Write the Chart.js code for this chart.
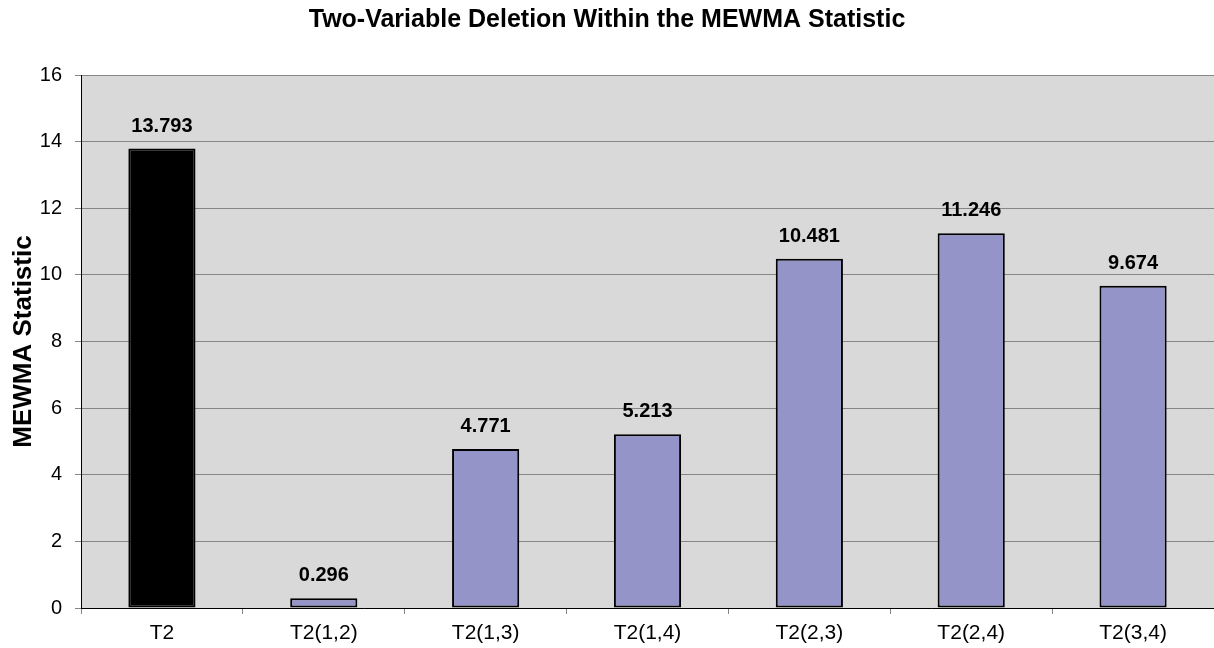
<!DOCTYPE html>
<html>
<head>
<meta charset="utf-8">
<script src="https://cdn.jsdelivr.net/npm/chart.js@4.4.0/dist/chart.umd.min.js"></script>
<style>
  html, body { margin: 0; padding: 0; background: #fff; }
  #wrap { width: 1214px; height: 648px; }
</style>
</head>
<body>
<div id="wrap"><canvas id="mewma"></canvas></div>
<script>
const categories = ["T2", "T2(1,2)", "T2(1,3)", "T2(1,4)", "T2(2,3)", "T2(2,4)", "T2(3,4)"];
const values = [13.793, 0.296, 4.771, 5.213, 10.481, 11.246, 9.674];
const labels = ["13.793", "0.296", "4.771", "5.213", "10.481", "11.246", "9.674"];
const barColors = ["#000000", "#9494C9", "#9494C9", "#9494C9", "#9494C9", "#9494C9", "#9494C9"];

const FONT = "'Liberation Sans', Arial, sans-serif";

// gray plot background
const plotBg = {
  id: "plotBg",
  beforeDraw(chart) {
    const { ctx, chartArea: a } = chart;
    ctx.save();
    ctx.fillStyle = "#D9D9D9";
    ctx.fillRect(a.left, a.top, a.right - a.left, a.bottom - a.top);
    ctx.restore();
  },
};

// value labels above each bar
const valueLabels = {
  id: "valueLabels",
  afterDatasetsDraw(chart) {
    const { ctx } = chart;
    const meta = chart.getDatasetMeta(0);
    ctx.save();
    ctx.font = "bold 20px " + FONT;
    ctx.fillStyle = "#000";
    ctx.textAlign = "center";
    ctx.textBaseline = "alphabetic";
    meta.data.forEach((bar, i) => {
      ctx.fillText(labels[i], bar.x, bar.y - 17);
    });
    ctx.restore();
  },
};

new Chart(document.getElementById("mewma"), {
  type: "bar",
  data: {
    labels: categories,
    datasets: [
      {
        data: values,
        backgroundColor: barColors,
        borderColor: "#000",
        borderWidth: 2,
        borderSkipped: false,
        categoryPercentage: 1,
        barPercentage: 0.415,
      },
    ],
  },
  options: {
    responsive: true,
    maintainAspectRatio: false,
    animation: false,
    layout: { padding: 0 },
    scales: {
      y: {
        min: 0,
        max: 16,
        afterFit: (s) => { s.width = 81; },
        ticks: { stepSize: 2, color: "#000", padding: 13, font: { family: FONT, size: 20 } },
        grid: { color: "#868686", tickColor: "#868686", tickLength: 6 },
        border: { color: "#000", width: 1 },
        title: {
          display: true,
          text: "MEWMA Statistic",
          color: "#000",
          font: { family: FONT, size: 26, weight: "bold" },
          padding: { top: 8, bottom: 0 },
        },
      },
      x: {
        afterFit: (s) => { s.height = 40; },
        ticks: { color: "#000", padding: 7, font: { family: FONT, size: 21 } },
        grid: { offset: true, drawOnChartArea: false, tickColor: "#868686", tickLength: 6 },
        border: { color: "#000", width: 1 },
      },
    },
    plugins: {
      legend: { display: false },
      tooltip: { enabled: false },
      title: {
        display: true,
        text: "Two-Variable Deletion Within the MEWMA Statistic",
        color: "#000",
        font: { family: FONT, size: 25, weight: "bold" },
        padding: { top: 5, bottom: 40 },
      },
    },
  },
  plugins: [plotBg, valueLabels],
});
</script>
</body>
</html>
